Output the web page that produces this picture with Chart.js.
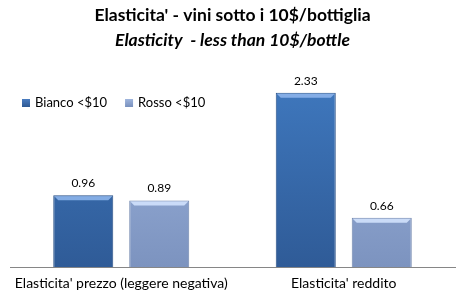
<!DOCTYPE html>
<html><head><meta charset="utf-8">
<script src="https://cdn.jsdelivr.net/npm/chart.js@4"></script>
<style>html,body{margin:0;padding:0;background:#fff}#wrap{width:466px;height:302px}</style>
</head><body><div id="wrap"><canvas id="c" width="466" height="302"></canvas></div>
<script>
const categories = ["Elasticita' prezzo (leggere negativa)", "Elasticita' reddito"];
const seriesNames = ["Bianco <$10", "Rosso <$10"];
const bianco = [0.96, 2.33];
const rosso = [0.89, 0.66];
const FONT = "Lato, 'Noto Sans', sans-serif";

function grad(ctx, top, bottom) {
  const chart = ctx.chart;
  const area = chart.chartArea;
  if (!area) return top;
  const g = chart.ctx.createLinearGradient(0, area.top, 0, area.bottom);
  g.addColorStop(0, top); g.addColorStop(1, bottom);
  return g;
}

const labelPlugin = {
  id: 'vals',
  afterDatasetsDraw(chart) {
    const ctx = chart.ctx;
    ctx.save();
    // bevel highlight on top of bars
    const hl = ['rgba(140,180,235,0.9)', 'rgba(205,222,250,0.95)'];
    chart.data.datasets.forEach((ds, i) => {
      chart.getDatasetMeta(i).data.forEach((bar) => {
        const w = bar.width;
        ctx.fillStyle = hl[i];
        ctx.beginPath();
        ctx.moveTo(bar.x - w / 2 + 1, bar.y + 1);
        ctx.lineTo(bar.x + w / 2 - 1, bar.y + 1);
        ctx.lineTo(bar.x + w / 2 - 5, bar.y + 5);
        ctx.lineTo(bar.x - w / 2 + 5, bar.y + 5);
        ctx.closePath();
        ctx.fill();
      });
    });
    ctx.font = "12px " + FONT;
    ctx.fillStyle = '#000';
    ctx.textAlign = 'center';
    ctx.textBaseline = 'bottom';
    chart.data.datasets.forEach((ds, i) => {
      chart.getDatasetMeta(i).data.forEach((bar, j) => {
        ctx.fillText(ds.data[j].toFixed(2), bar.x, bar.y - 6);
      });
    });
    // legend inside plot area
    ctx.font = "13px " + FONT;
    ctx.textAlign = 'left';
    ctx.textBaseline = 'middle';
    const sw = [['#4a7cc0', '#2d5893'], ['#9fb5dd', '#7890bd']];
    let x = 22;
    const y = 103;
    chart.data.datasets.forEach((ds, i) => {
      const g = ctx.createLinearGradient(0, y - 4, 0, y + 4);
      g.addColorStop(0, sw[i][0]); g.addColorStop(1, sw[i][1]);
      ctx.fillStyle = g;
      ctx.fillRect(x, y - 4, 8, 8);
      ctx.fillStyle = '#000';
      ctx.fillText(ds.label, x + 13, y);
      x += 13 + ctx.measureText(ds.label).width + 18;
    });
    ctx.restore();
  }
};

new Chart(document.getElementById('c'), {
  type: 'bar',
  data: {
    labels: categories,
    datasets: [
      { label: seriesNames[0], data: bianco,
        backgroundColor: c => grad(c, '#3f78be', '#2f5b97'),
        borderColor: '#284f86', borderWidth: 1 },
      { label: seriesNames[1], data: rosso,
        backgroundColor: c => grad(c, '#9fb6e0', '#7c93bf'),
        borderColor: '#6f85ad', borderWidth: 1 }
    ]
  },
  options: {
    responsive: false,
    animation: false,
    devicePixelRatio: 1,
    layout: { padding: { left: 10, right: 11, top: 0, bottom: 2 } },
    datasets: { bar: { categoryPercentage: 0.683, barPercentage: 0.79 } },
    plugins: {
      legend: { display: false },
      tooltip: { enabled: false },
      title: { display: true, text: "Elasticita' - vini sotto i 10$/bottiglia",
        color: '#000', font: { family: FONT, size: 17.5, weight: 'bold' }, padding: { top: 5, bottom: 4 } },
      subtitle: { display: true, text: "Elasticity  - less than 10$/bottle",
        color: '#000', font: { family: FONT, size: 17.5, style: 'italic', weight: 'bold' }, padding: { top: 0, bottom: 29 } }
    },
    scales: {
      x: { grid: { display: false, drawTicks: false }, border: { display: true, color: '#868686', width: 1 },
        ticks: { color: '#000', font: { family: FONT, size: 14 }, padding: 8, maxRotation: 0 } },
      y: { display: false, min: 0, max: 2.5 }
    }
  },
  plugins: [labelPlugin]
});
</script></body></html>
